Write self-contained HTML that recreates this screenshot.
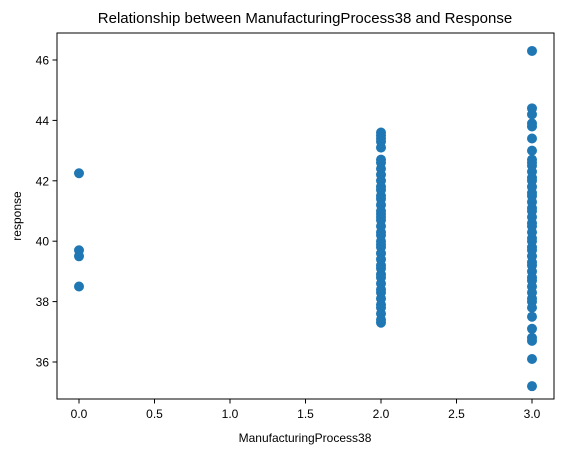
<!DOCTYPE html>
<html><head><meta charset="utf-8"><style>
body{margin:0;background:#fff;}
svg text{font-family:"Liberation Sans","DejaVu Sans",sans-serif;fill:#000;}
</style></head><body>
<svg id="chart" width="570" height="455">
<text x="305" y="23" font-size="15" text-anchor="middle">Relationship between ManufacturingProcess38 and Response</text>
<g id="marks"></g>
<g id="axes"></g>
<rect x="57" y="33" width="497" height="366" fill="none" stroke="#000" stroke-width="1"/>
<text x="305" y="442" font-size="12" text-anchor="middle">ManufacturingProcess38</text>
<text transform="translate(21,216) rotate(-90)" font-size="12" text-anchor="middle">response</text>
</svg>
<script>
const xTicks=[0,0.5,1,1.5,2,2.5,3];
const xTickLabels=["0.0","0.5","1.0","1.5","2.0","2.5","3.0"];
const yTicks=[36,38,40,42,44,46];
const col0=[42.25,39.7,39.5,38.5];
const col2=[43.6,43.5,43.4,43.3,43.1,42.7,42.6,42.4,42.2,42.0,41.8,41.7,41.5,41.4,41.2,41.0,40.9,40.8,40.7,40.5,40.3,40.2,40.0,39.9,39.8,39.6,39.4,39.2,39.1,38.9,38.8,38.6,38.4,38.3,38.1,37.9,37.8,37.6,37.4,37.3];
const col3=[46.3,44.4,44.2,43.9,43.8,43.4,43.0,42.7,42.6,42.5,42.3,42.1,42.0,41.8,41.6,41.5,41.3,41.1,41.0,40.8,40.6,40.5,40.3,40.1,40.0,39.8,39.7,39.5,39.3,39.2,39.0,38.8,38.7,38.5,38.3,38.1,38.0,37.8,37.5,37.1,36.8,36.7,36.1,35.2];
const xs=v=>79+v*151;
const ys=v=>60+(46-v)*30.2;
const NS="http://www.w3.org/2000/svg";
const marks=document.getElementById('marks'),axes=document.getElementById('axes');
function pts(x,arr,name){arr.forEach(v=>{const c=document.createElementNS(NS,'circle');
c.setAttribute('cx',xs(x));c.setAttribute('cy',ys(v));c.setAttribute('r',5);c.setAttribute('fill','#1f77b4');


marks.appendChild(c);});}
pts(0,col0,'point-x0');pts(2,col2,'point-x2');pts(3,col3,'point-x3');
xTicks.forEach((t,i)=>{const x=xs(t);
const l=document.createElementNS(NS,'line');l.setAttribute('x1',x);l.setAttribute('x2',x);l.setAttribute('y1',399);l.setAttribute('y2',403.5);l.setAttribute('stroke','#000');


axes.appendChild(l);
const tx=document.createElementNS(NS,'text');tx.setAttribute('x',x);tx.setAttribute('y',418);tx.setAttribute('font-size','12');tx.setAttribute('text-anchor','middle');tx.textContent=xTickLabels[i];


axes.appendChild(tx);});
yTicks.forEach(t=>{const y=ys(t);
const l=document.createElementNS(NS,'line');l.setAttribute('x1',52.5);l.setAttribute('x2',57);l.setAttribute('y1',y);l.setAttribute('y2',y);l.setAttribute('stroke','#000');


axes.appendChild(l);
const tx=document.createElementNS(NS,'text');tx.setAttribute('x',49);tx.setAttribute('y',y+4.5);tx.setAttribute('font-size','12');tx.setAttribute('text-anchor','end');tx.textContent=t;


axes.appendChild(tx);});
</script>
</body></html>
